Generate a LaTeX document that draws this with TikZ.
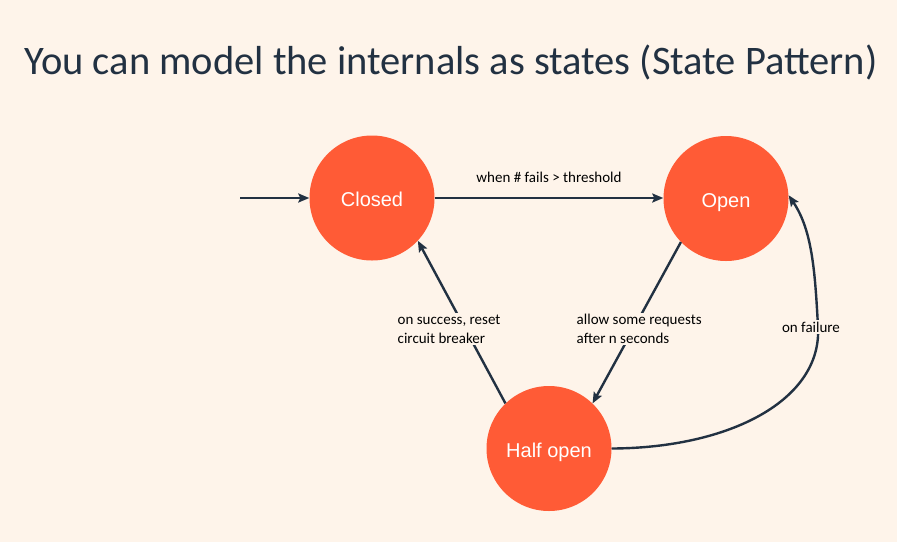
\documentclass[tikz,border=0pt]{standalone}
\usepackage{fontspec}
\setmainfont{Carlito}
\newfontfamily\nodefont{Liberation Sans}
\usetikzlibrary{arrows.meta}
\definecolor{bg}{HTML}{FEF4EA}
\definecolor{st}{HTML}{FF5B36}
\definecolor{ink}{HTML}{223142}
\tikzset{
  state/.style={circle, fill=st, minimum size=125pt, inner sep=0pt, text=white, text height=19pt, text depth=2pt, font=\nodefont\fontsize{20}{24}\selectfont},
  arr/.style={draw=ink, line width=2.4pt, -{Stealth[length=11pt,width=9pt,inset=2pt]}},
  lbl/.style={font=\fontsize{15}{19}\selectfont, text=black, fill=bg, inner sep=1.5pt, align=left}
}
\begin{document}
\begin{tikzpicture}[x=1pt,y=-1pt]
\fill[bg] (0,0) rectangle (897,542);
\useasboundingbox (0,0) rectangle (897,542);
\node[font=\fontsize{40.5}{44}\selectfont, text=ink] (title) at (451,62) {You can model the internals as states (State Pattern)};
\node[state] (closed) at (372,198) {Closed};
\node[state] (open) at (726,198.5) {Open};
\node[state] (half) at (549,448.5) {Half open};
\coordinate (start) at (240,198);
\draw[arr] (start) -- (closed.west |- start);
\draw[arr] (closed.east |- start) -- node[lbl, above=13pt] (l1) {when \# fails > threshold} (open.west |- start);
\draw[arr] (half.134) -- (closed.-43);
\draw[arr] (open.-136) -- (half.46);
\draw[arr] (half.east) .. controls (730,448) and (822,400) .. (818,327) .. controls (815,270) and (812,230) .. (open.3);
\node[lbl, anchor=west] (l2) at (396,329) {on success, reset\\circuit breaker};
\node[lbl, anchor=west] (l3) at (575,329) {allow some requests\\after n seconds};
\node[lbl] (l4) at (811,327) {on failure};
\end{tikzpicture}
\end{document}
